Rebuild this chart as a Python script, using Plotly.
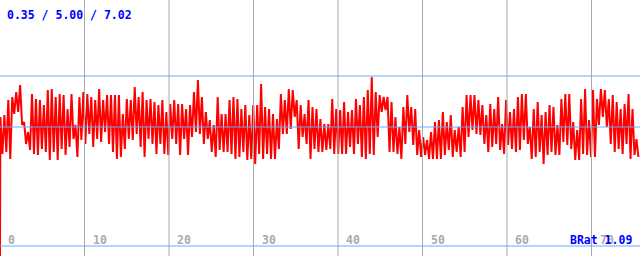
import plotly.graph_objects as go

# ---- data ----
# per-segment local maxima / minima of the BRat signal (arbitrary units)
hi_vals = [
    129, 131, 146, 149, 154, 161, 124, 114, 152, 147, 146, 141, 156, 157, 149, 152, 151, 137, 152, 121, 149, 154, 152, 149, 146, 157, 146,
    151, 151, 151, 151, 132, 147, 146, 159, 149, 154, 146, 147, 144, 141, 146, 134, 142, 146, 142, 142, 137, 141, 154, 166, 149, 134, 126,
    121, 149, 132, 132, 146, 149, 147, 137, 141, 131, 141, 141, 162, 139, 137, 132, 127, 152, 146, 157, 156, 146, 141, 132, 146, 139, 137,
    127, 122, 122, 147, 137, 136, 144, 134, 136, 147, 141, 149, 156, 169, 154, 151, 149, 149, 144, 129, 119, 139, 151, 139, 137, 116, 109,
    106, 114, 124, 126, 134, 124, 131, 116, 119, 139, 151, 151, 151, 146, 141, 131, 142, 137, 149, 122, 146, 134, 137, 149, 152, 152, 119,
    137, 144, 131, 134, 141, 139, 121, 147, 152, 152, 124, 116, 147, 157, 126, 156, 147, 157, 156, 147, 151, 144, 137, 142, 152, 137, 107,
]
lo_vals = [
    92, 94, 87, 132, 134, 121, 102, 96, 92, 91, 97, 94, 86, 94, 86, 97, 91, 99, 107, 89, 106, 102, 112, 99, 107, 104, 114,
    102, 94, 87, 89, 97, 107, 106, 112, 99, 89, 107, 102, 92, 102, 92, 91, 107, 102, 91, 107, 91, 109, 114, 112, 102, 107, 94,
    89, 96, 94, 94, 92, 87, 89, 94, 86, 87, 82, 92, 87, 92, 87, 87, 97, 112, 112, 117, 129, 97, 109, 102, 87, 97, 94,
    94, 96, 97, 92, 92, 92, 92, 99, 92, 102, 89, 87, 92, 91, 109, 134, 136, 94, 94, 92, 87, 102, 114, 101, 91, 89, 91,
    87, 87, 87, 87, 91, 96, 89, 94, 89, 94, 109, 116, 112, 111, 102, 94, 99, 102, 96, 92, 101, 97, 94, 96, 106, 102, 87,
    89, 94, 82, 91, 94, 91, 91, 104, 101, 97, 86, 86, 92, 91, 89, 89, 121, 129, 119, 102, 94, 97, 92, 102, 87, 91, 89,
]
start_value = -10
x_ticks = [0, 10, 20, 30, 40, 50, 60, 70]
ref_levels = [0, 119, 170]
stats_text = "0.35 / 5.00 / 7.02"
series_name = "BRat"
last_value = "1.09"

# ---- geometry ----
W, H = 640, 256
PX_PER_UNIT = 8.45
X_MAX = W / PX_PER_UNIT
Y_MIN, Y_MAX = -10, 246

n = len(hi_vals)
seg = X_MAX / n
xs = [0.0]
ys = [start_value]
for i, (h, l) in enumerate(zip(hi_vals, lo_vals)):
    xs += [i * seg + 0.1 * seg, i * seg + 0.6 * seg]
    ys += [h, l]

fig = go.Figure()
fig.add_trace(go.Scatter(x=xs, y=ys, mode="lines",
                         line=dict(color="#ff0000", width=2, simplify=False),
                         hoverinfo="skip", showlegend=False))

shapes = []
for t in x_ticks[1:]:
    shapes.append(dict(type="line", xref="x", yref="paper", x0=t, x1=t, y0=0, y1=1,
                       line=dict(color="#aaaaaa", width=1), layer="above"))
for lv in ref_levels:
    shapes.append(dict(type="line", xref="paper", yref="y", x0=0, x1=1, y0=lv, y1=lv,
                       line=dict(color="#66aaff", width=1), layer="above"))

mono = "DejaVu Sans Mono"
annotations = []
for t in x_ticks:
    annotations.append(dict(x=t, y=0, xref="x", yref="y", text=f"<b>{t}</b>",
                            showarrow=False, xanchor="left", yanchor="bottom",
                            xshift=6, yshift=-3,
                            font=dict(family=mono, size=11.5, color="#aaaaaa")))
annotations.append(dict(x=1, y=0, xref="paper", yref="y",
                        text=f"<b>{series_name} {last_value}</b>",
                        showarrow=False, xanchor="right", yanchor="bottom",
                        xshift=-6, yshift=-3,
                        font=dict(family=mono, size=11.5, color="#0000ff")))
annotations.append(dict(x=0, y=1, xref="paper", yref="paper",
                        text=f"<b>{stats_text}</b>",
                        showarrow=False, xanchor="left", yanchor="top",
                        xshift=5, yshift=-6,
                        font=dict(family=mono, size=11.5, color="#0000ff")))

fig.update_layout(
    width=W, height=H,
    margin=dict(l=0, r=0, t=0, b=0),
    paper_bgcolor="white", plot_bgcolor="white",
    xaxis=dict(range=[0, X_MAX], visible=False, fixedrange=True),
    yaxis=dict(range=[Y_MIN, Y_MAX], visible=False, fixedrange=True),
    shapes=shapes, annotations=annotations,
)
fig.write_html("out.html")
